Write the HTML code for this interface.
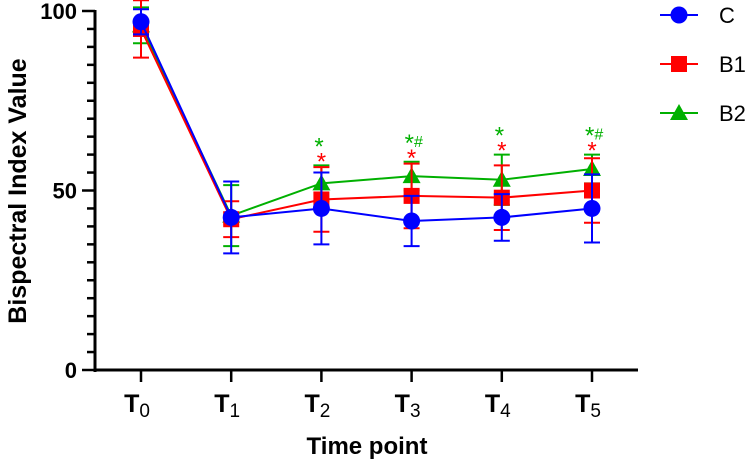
<!DOCTYPE html>
<html><head><meta charset="utf-8"><style>
body{margin:0;background:#fff;}
svg{display:block;font-family:"Liberation Sans",Arial,sans-serif;}
</style></head><body>
<svg id="chart" width="750" height="463"></svg>
<script>
const categories=["0","1","2","3","4","5"];
const seriesNames=["C","B1","B2"];
const valuesC=[97,42.5,45,41.5,42.5,45];
const valuesB1=[95,42,47.5,48.5,48,50];
const valuesB2=[96,43,52,54,53,56];
const errC=[3.5,10,10,7,6.5,9.5];
const errB1=[8,5,9,9,9,9];
const errB2=[5,8.5,5,4,7,4];
const redMarks=["","","*","*","*","*"];
const greenMarks=["","","*","*#","*","*#"];
const yTicks=[0,50,100];

const NS="http://www.w3.org/2000/svg";
const svg=document.getElementById('chart');
function el(tag,attrs,parent){const e=document.createElementNS(NS,tag);for(const k in attrs)e.setAttribute(k,attrs[k]);(parent||svg).appendChild(e);return e;}
const x=i=>141+i*90.2;
const y=v=>370-v*3.59;
const colors=["#0000ff","#ff0000","#00b000"];
const vals=[valuesC,valuesB1,valuesB2];
const errs=[errC,errB1,errB2];

let a=el('line',{x1:95,y1:y(100)-1,x2:95,y2:372,stroke:'#000','stroke-width':3});

a=el('line',{x1:94,y1:370,x2:638,y2:370,stroke:'#000','stroke-width':3});

for(let v=0;v<=100;v+=5){
  const major=v%50===0;
  const t=el('line',{x1:major?82:87,y1:y(v),x2:95,y2:y(v),stroke:'#000','stroke-width':2.5});
  
}
yTicks.forEach(v=>{
  const t=el('text',{x:77,y:y(v)+8,'text-anchor':'end','font-size':22,'font-weight':'bold'});
  t.textContent=v;
  
});
categories.forEach((c,i)=>{
  const t=el('line',{x1:x(i),y1:370,x2:x(i),y2:382,stroke:'#000','stroke-width':2.5});
  
  const tx=el('text',{x:x(i)-4,y:412,'text-anchor':'middle','font-size':25,'font-weight':'bold'});
  tx.innerHTML='T<tspan font-size="19" font-weight="normal" dy="5">'+c+'</tspan>';
  
});
let t=el('text',{x:367,y:454,'text-anchor':'middle','font-size':24,'font-weight':'bold'});
t.textContent='Time point';
t=el('text',{x:0,y:0,'text-anchor':'middle','font-size':25,'font-weight':'bold',transform:'translate(26,191) rotate(-90)'});
t.textContent='Bispectral Index Value';

function marker(s,cx,cy,g){
  let m;
  if(s===0)m=el('circle',{cx:cx,cy:cy,r:8.5,fill:colors[0]},g);
  else if(s===1)m=el('rect',{x:cx-8,y:cy-8,width:16,height:16,fill:colors[1]},g);
  else m=el('polygon',{points:`${cx},${cy-9} ${cx+9},${cy+7} ${cx-9},${cy+7}`,fill:colors[2]},g);
  return m;
}
[2,1,0].forEach(s=>{
  const g=el('g',{});
  
  vals[s].forEach((v,i)=>{
    const top=y(v+errs[s][i]),bot=y(v-errs[s][i]);
    const e=el('path',{d:`M${x(i)},${top}V${bot}M${x(i)-8},${top}H${x(i)+8}M${x(i)-8},${bot}H${x(i)+8}`,stroke:colors[s],'stroke-width':2,fill:'none'},g);
    
  });
  const ln=el('polyline',{points:vals[s].map((v,i)=>x(i)+','+y(v)).join(' '),fill:'none',stroke:colors[s],'stroke-width':2},g);
  
  vals[s].forEach((v,i)=>{
    const m=marker(s,x(i),y(v),g);
    
  });
});
categories.forEach((c,i)=>{
  const top=Math.max(valuesB1[i]+errB1[i],valuesB2[i]+errB2[i],valuesC[i]+errC[i]);
  if(redMarks[i]){
    const r=el('text',{x:x(i),y:y(top)+4,'text-anchor':'middle','font-size':24,fill:'#ff0000'});
    r.textContent=redMarks[i];
  }
  if(greenMarks[i]){
    const gm=el('text',{x:x(i)-7,y:y(top)-11,'text-anchor':'start','font-size':24,fill:'#00b000'});
    gm.innerHTML=greenMarks[i].replace('#','<tspan font-size="16" dy="-4">#</tspan>');
    
  }
});
seriesNames.forEach((n,s)=>{
  const g=el('g',{});
  
  const ly=15+s*49;
  el('line',{x1:660,y1:ly,x2:698,y2:ly,stroke:colors[s],'stroke-width':2},g);
  marker(s,679,ly,g);
  const lt=el('text',{x:719,y:ly+8,'font-size':22},g);
  lt.textContent=n;
});
</script>
</body></html>
